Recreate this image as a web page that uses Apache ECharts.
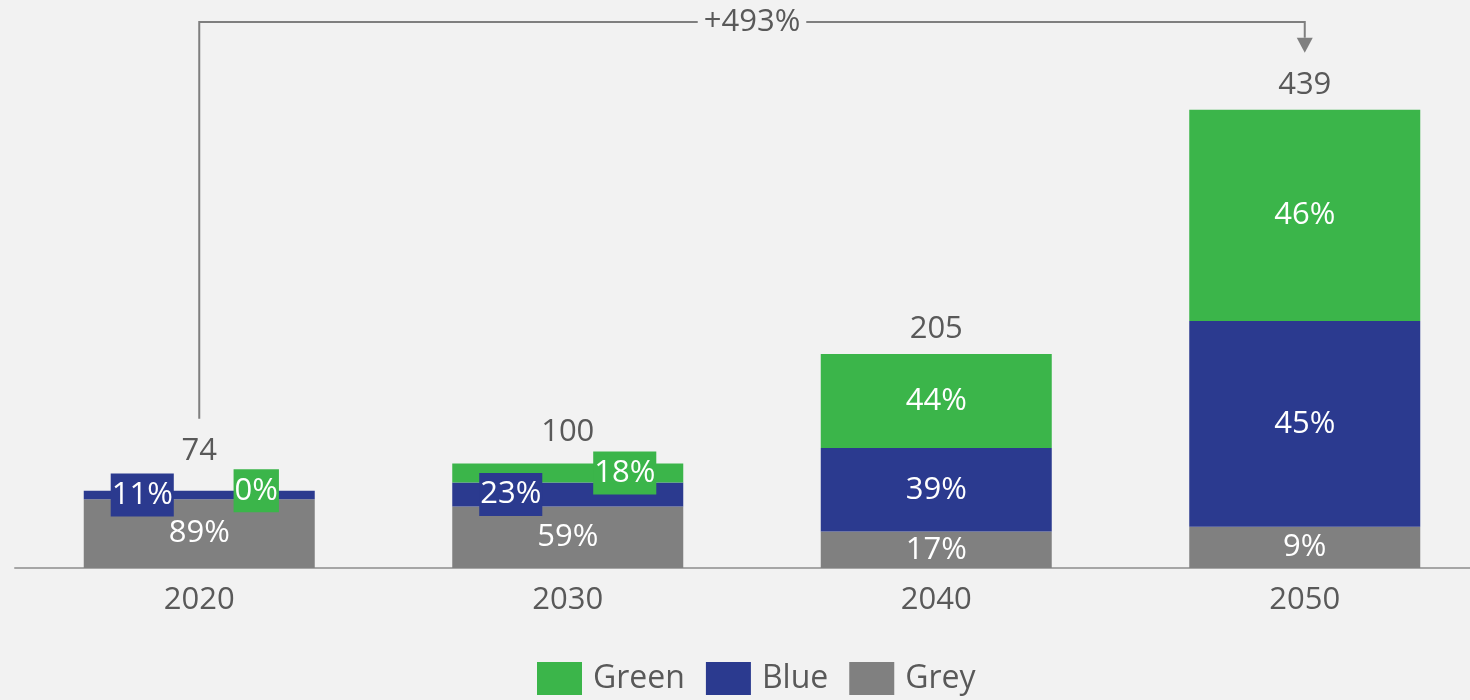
<!DOCTYPE html>
<html>
<head>
<meta charset="utf-8">
<script src="https://cdn.jsdelivr.net/npm/echarts@6/dist/echarts.min.js"></script>
<style>
html,body{margin:0;padding:0;background:#F2F2F2;overflow:hidden;width:1470px;height:700px;}
#chart{width:1492px;height:700px;}
</style>
</head>
<body>
<div id="chart"></div>
<script>
// ---- data ----
const years = ['2020', '2030', '2040', '2050'];
const totals = [74, 100, 205, 439];
const greyValues = [65.9, 59, 34.9, 39.5];
const blueValues = [8.1, 23, 80, 197];
const greenValues = [0, 18, 90.1, 202.5];
const greyPct = ['89%', '59%', '17%', '9%'];
const bluePct = ['11%', '23%', '39%', '45%'];
const greenPct = ['0%', '18%', '44%', '46%'];
const growthLabel = '+493%';

// ---- style ----
const FONT = "'Open Sans', 'Noto Sans', sans-serif";
const TEXT = '#595959';
const COLORS = { Green: '#3BB54A', Blue: '#2B3A8F', Grey: '#808080' };
const SMALL = 30;      // segments smaller than this get boxed labels
const totalLift = { '2020': 24, '2030': 16 };   // extra room for boxed labels

function segData(values, pcts, color, side) {
  return values.map((v, i) => {
    const item = { value: v, label: { formatter: pcts[i] } };
    if (side && v < SMALL) {
      item.label = {
        formatter: pcts[i], position: 'inside', offset: [side * 57, 0],
        backgroundColor: color, padding: [5, 1, 5, 1], lineHeight: 33
      };
    }
    return item;
  });
}

function barSeries(name, values, pcts, side) {
  return {
    name, type: 'bar', stack: 'total', barWidth: 231,
    itemStyle: { color: COLORS[name] },
    label: { show: true, position: 'inside', color: '#fff', fontSize: 31, fontFamily: FONT },
    emphasis: { disabled: true },
    data: segData(values, pcts, COLORS[name], side)
  };
}

const chart = echarts.init(document.getElementById('chart'), null, { renderer: 'canvas' });
chart.setOption({
  backgroundColor: '#F2F2F2',
  animation: false,
  textStyle: { fontFamily: FONT },
  grid: { left: 15, right: 3, top: 46, bottom: 132, containLabel: false },
  legend: {
    data: ['Green', 'Blue', 'Grey'], bottom: 0, left: 532,
    itemWidth: 45, itemHeight: 33, itemGap: 21, icon: 'rect',
    textStyle: { color: TEXT, fontSize: 32, fontFamily: FONT, padding: [0, 0, 0, 6] },
    selectedMode: false
  },
  xAxis: {
    type: 'category', data: years,
    axisLine: { lineStyle: { color: '#A6A6A6', width: 2 } },
    axisTick: { show: false },
    axisLabel: { color: TEXT, fontSize: 31, fontFamily: FONT, margin: 17 }
  },
  yAxis: { type: 'value', min: 0, max: 500, show: false, splitLine: { show: false } },
  series: [
    barSeries('Grey', greyValues, greyPct, 0),
    barSeries('Blue', blueValues, bluePct, -1),
    barSeries('Green', greenValues, greenPct, 1),
    {
      name: 'Total', type: 'scatter', symbolSize: 0, silent: true,
      itemStyle: { opacity: 1 },
      data: totals.map((t, i) => ({
        value: t,
        label: { distance: totalLift[years[i]] || 9 }
      })),
      label: {
        show: true, position: 'top', color: TEXT, fontSize: 31, fontFamily: FONT,
        formatter: p => String(p.value)
      }
    }
  ]
});

// ---- growth bracket annotation ----
const pStart = chart.convertToPixel({ seriesIndex: 0 }, [0, totals[0]]);
const pEnd = chart.convertToPixel({ seriesIndex: 0 }, [3, totals[3]]);
const x0 = pStart[0], x1 = pEnd[0];
const y0 = pStart[1] - 72;
const yTop = 22;
const tipY = pEnd[1] - 57;
const headH = 15, headW = 8;
chart.setOption({
  graphic: [
    {
      type: 'polyline', silent: true,
      shape: { points: [[x0, y0], [x0, yTop], [x1, yTop], [x1, tipY - headH]] },
      style: { stroke: '#7F7F7F', lineWidth: 2, fill: null }
    },
    {
      type: 'polygon', silent: true,
      shape: { points: [[x1 - headW, tipY - headH], [x1 + headW, tipY - headH], [x1, tipY]] },
      style: { fill: '#7F7F7F' }
    },
    {
      type: 'text', silent: true, x: (x0 + x1) / 2, y: yTop,
      style: {
        text: growthLabel, fill: TEXT, font: '31px ' + FONT,
        align: 'center', verticalAlign: 'middle',
        backgroundColor: '#F2F2F2', padding: [2, 6, 2, 6]
      }
    }
  ]
});
</script>
</body>
</html>
